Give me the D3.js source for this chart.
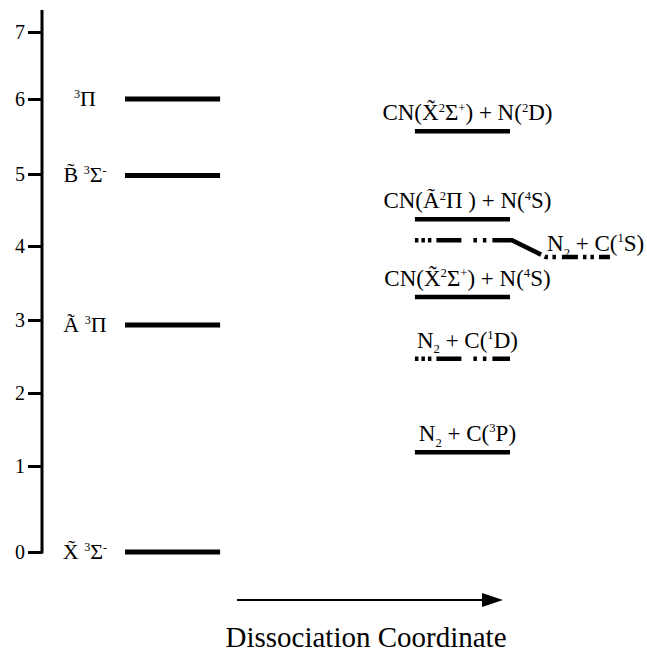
<!DOCTYPE html>
<html>
<head>
<meta charset="utf-8">
<script src="https://cdn.jsdelivr.net/npm/d3@7"></script>
<style>
body{margin:0;background:#fff}
svg{display:block}
</style>
</head>
<body>
<script>
// energy axis ticks (eV)
var ticks = [0, 1, 2, 3, 4, 5, 6, 7];

// CN2 states, left column  (^ = superscript next char, _ = subscript next char)
var stateLabels = ["^3Π", "B\u0303 ^3Σ^-", "A\u0303 ^3Π", "X\u0303 ^3Σ^-"];
var stateEnergy = [6.0, 4.98, 2.93, 0.0];

// dissociation limits, right column
var limitLabels = ["CN(X\u0303^2Σ^+) + N(^2D)", "CN(A\u0303^2Π ) + N(^4S)", "CN(X\u0303^2Σ^+) + N(^4S)", "N_2 + C(^1D)", "N_2 + C(^3P)"];
var limitEnergy = [5.57, 4.37, 3.31, 2.47, 1.19];
var limitDashed = [false, false, false, true, false];

// N2 + C(1S): plateau then drops to the asymptote
var c1sLabel = "N_2 + C(^1S)";
var c1sEnergy = [4.08, 3.85];

var columns = ["states", "limits"];

var FONT = "Liberation Serif";
var width = 647, height = 656;
var svg = d3.select("body").append("svg").attr("width", width).attr("height", height)
  .attr("font-family", FONT);

// hand drawn axis -> uneven tick spacing, so piecewise scale
var y = d3.scaleLinear().domain(ticks).range([552, 466, 393, 320, 246, 174, 99, 32]);
var x = d3.scaleBand().domain(columns).range([125, 510]).paddingInner(0.672).paddingOuter(0);

var axisX = 42;
var yAxis = d3.axisLeft(y).tickValues(ticks).tickSize(14).tickSizeOuter(0).tickPadding(3).tickFormat(d3.format("d"));
var gA = svg.append("g").attr("transform", "translate(" + axisX + ",0)").call(yAxis)
  .attr("font-family", FONT).attr("font-size", 20);
gA.select(".domain").remove();
gA.selectAll(".tick line").attr("stroke", "#000").attr("stroke-width", 3);
gA.selectAll(".tick text").attr("fill", "#000");
svg.append("line").attr("x1", axisX).attr("x2", axisX)
  .attr("y1", y(0) + 1.5).attr("y2", y(7) - 22)
  .attr("stroke", "#000").attr("stroke-width", 3);

// rich text: ^x superscript, _x subscript
function rich(t, str, size) {
  var runs = [], cur = "", i = 0;
  while (i < str.length) {
    var c = str[i];
    if (c == "^" || c == "_") {
      if (cur) { runs.push({t: cur, k: ""}); cur = ""; }
      runs.push({t: str[i + 1], k: c == "^" ? "sup" : "sub"});
      i += 2;
    } else { cur += c; i++; }
  }
  if (cur) runs.push({t: cur, k: ""});
  var shift = 0;
  runs.forEach(function(r) {
    var target = r.k == "sup" ? -0.38 * size : (r.k == "sub" ? 0.25 * size : 0);
    var ts = t.append("tspan").text(r.t).attr("dy", target - shift);
    if (r.k) ts.attr("font-size", size * 0.55);
    shift = target;
  });
}

var dash1D = "3.5,3,3.5,3,3.5,5,25,12,3.5,6,3.5,6,30,3";
var dash1S = "3.5,3,3.5,3,3.5,5,25,12,3.5,6,3.5,6,52,4,3.5,4.5,3.5,6,16,5,3.5,4,3.5,5,14,4";

// left states
var xs = x("states"), bw = x.bandwidth();
stateEnergy.forEach(function(e, i) {
  svg.append("line").attr("x1", xs).attr("x2", xs + bw)
    .attr("y1", y(e)).attr("y2", y(e))
    .attr("stroke", "#000").attr("stroke-width", 5);
  var t = svg.append("text").attr("x", xs - 40).attr("y", y(e) + 7)
    .attr("text-anchor", "middle").attr("font-size", 22);
  rich(t, stateLabels[i], 22);
});

// right limits
var xl = x("limits");
limitEnergy.forEach(function(e, i) {
  svg.append("line").attr("x1", xl).attr("x2", xl + bw)
    .attr("y1", y(e)).attr("y2", y(e))
    .attr("stroke", "#000").attr("stroke-width", 4.5)
    .attr("stroke-dasharray", limitDashed[i] ? dash1D : null);
  var t = svg.append("text").attr("x", xl + bw / 2 + 5).attr("y", y(e) - 11)
    .attr("text-anchor", "middle").attr("font-size", 23);
  rich(t, limitLabels[i], 23);
});

// N2 + C(1S) line
var c1s = [[xl, c1sEnergy[0]], [xl + bw + 2, c1sEnergy[0]], [xl + bw + 36, c1sEnergy[1]], [xl + bw + 100, c1sEnergy[1]]];
svg.append("path")
  .attr("d", d3.line().x(function(d) { return d[0]; }).y(function(d) { return y(d[1]); })(c1s))
  .attr("fill", "none").attr("stroke", "#000").attr("stroke-width", 4.5)
  .attr("stroke-dasharray", dash1S);
var t1s = svg.append("text").attr("x", xl + bw + 37).attr("y", y(c1sEnergy[1]) - 6)
  .attr("font-size", 23);
rich(t1s, c1sLabel, 23);

// dissociation coordinate arrow
var ay = y(0) + 48, ax0 = 237, ax1 = 503;
svg.append("line").attr("x1", ax0).attr("x2", ax1 - 16).attr("y1", ay).attr("y2", ay)
  .attr("stroke", "#000").attr("stroke-width", 2);
svg.append("path")
  .attr("d", "M" + ax1 + "," + ay + "L" + (ax1 - 21) + "," + (ay - 7) + "L" + (ax1 - 21) + "," + (ay + 7) + "Z")
  .attr("fill", "#000");
svg.append("text").attr("x", 366).attr("y", ay + 47)
  .attr("text-anchor", "middle").attr("font-size", 29)
  .text("Dissociation Coordinate");
</script>
</body>
</html>
